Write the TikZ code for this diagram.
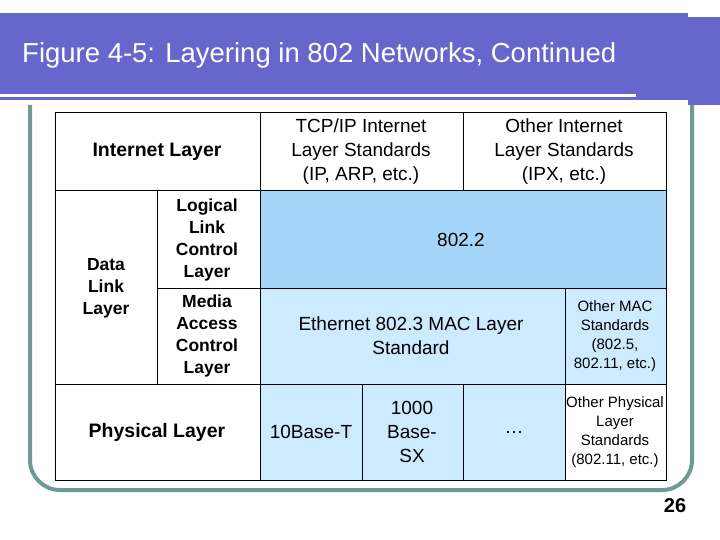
\documentclass[tikz,border=0pt]{standalone}
\usepackage{fontspec}
\setmainfont{Liberation Sans}
\begin{document}
\begin{tikzpicture}[x=1pt,y=-1pt,
  cell/.style={draw=black,line width=1pt},
  txt/.style={align=center,font=\fontsize{19}{24}\selectfont,inner sep=0pt},
  sm/.style={align=center,font=\fontsize{15}{19}\selectfont,inner sep=0pt},
  bld/.style={align=center,font=\bfseries\fontsize{19.5}{22}\selectfont,inner sep=0pt}]
\definecolor{hdr}{HTML}{6666CC}
\definecolor{frm}{HTML}{6E9A96}
\definecolor{lb}{HTML}{A6D5FA}
\definecolor{llb}{HTML}{CDEBFE}
\useasboundingbox (0,0) rectangle (720,540);
\fill[hdr] (0,13) rectangle (688,100);
\fill[hdr] (688,17) rectangle (720,105);
\draw[white,line width=3pt] (0,96) -- (636,96);
\draw[frm,line width=4pt,rounded corners=30pt] (30,105) -- (30,490) -- (692,490) -- (692,105);
\node[anchor=west,white,font=\fontsize{27.5}{30}\selectfont,inner sep=0pt] (title) at (22,55) {Figure 4-5: Layering in 802 Networks, Continued};
% fills
\fill[lb] (260,191) rectangle (666,288);
\fill[llb] (260,288) rectangle (666,384);
\fill[llb] (260,384) rectangle (565,480);
% grid
\draw[cell] (55,113) rectangle (666,480);
\draw[cell] (55,191) -- (666,191);
\draw[cell] (55,384) -- (666,384);
\draw[cell] (260,113) -- (260,480);
\draw[cell] (463,113) -- (463,191);
\draw[cell] (157,191) -- (157,384);
\draw[cell] (565,288) -- (565,480);
\draw[cell] (362,384) -- (362,480);
\draw[cell] (463,384) -- (463,480);
\draw[cell] (157,288) -- (666,288);
% texts
\node[bld] (il) at (157,152) {Internet Layer};
\node[txt] (tcp) at (361,152) {TCP/IP Internet\\Layer Standards\\(IP, ARP, etc.)};
\node[txt] (oil) at (564,152) {Other Internet\\Layer Standards\\(IPX, etc.)};
\node[bld,font=\bfseries\fontsize{17.5}{22}\selectfont] (dll) at (106,288) {Data\\Link\\Layer};
\node[bld,font=\bfseries\fontsize{17.5}{22}\selectfont] (llc) at (207,240) {Logical\\Link\\Control\\Layer};
\node[bld,font=\bfseries\fontsize{17.5}{22}\selectfont] (mac) at (207,336) {Media\\Access\\Control\\Layer};
\node[txt] (e22) at (461,240) {802.2};
\node[txt] (eth) at (411,336) {Ethernet 802.3 MAC Layer\\Standard};
\node[sm] (omac) at (615,336) {Other MAC\\Standards\\(802.5,\\802.11, etc.)};
\node[bld] (phy) at (157,432) {Physical Layer};
\node[txt] (tbt) at (311,432) {10Base-T};
\node[txt] (gbs) at (412,432) {1000\\Base-\\SX};
\node[txt] (dots) at (514,432) {\ldots};
\node[sm] (ophy) at (615,432) {Other Physical\\Layer\\Standards\\(802.11, etc.)};
\node[bld,font=\bfseries\fontsize{20}{22}\selectfont] (pg) at (675,506) {26};
\end{tikzpicture}
\end{document}
